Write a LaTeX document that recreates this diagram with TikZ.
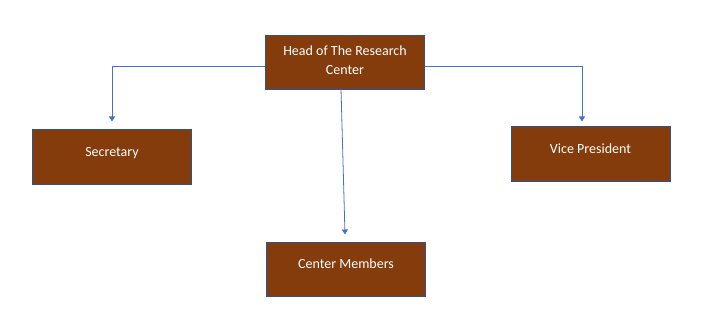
\documentclass[tikz,border=0pt]{standalone}
\usepackage{fontspec}
\setmainfont{Carlito}
\usetikzlibrary{arrows.meta,calc}
\definecolor{boxfill}{HTML}{843C0C}
\definecolor{boxline}{HTML}{2F528F}
\definecolor{conn}{HTML}{4472C4}
\begin{document}
\begin{tikzpicture}[x=1pt,y=-1pt,
  orgbox/.style={draw=boxline,line width=1pt,fill=boxfill,text=white,font=\fontsize{14}{19.5}\selectfont,
    minimum width=159pt,minimum height=54pt,align=center,inner sep=2pt,text depth=11pt},
  link/.style={draw=conn,line width=0.8pt,-{Triangle[width=6pt,length=5pt]}}]
\useasboundingbox (0,0) rectangle (715,318);
\node[orgbox,text depth=6pt] (head) at (345,63) {Head of The Research\\Center};
\node[orgbox] (sec) at (112,157) {Secretary};
\node[orgbox] (vp) at (590.5,154) {Vice President};
\node[orgbox] (cm) at (346,269) {Center Members};
\draw[link] ($(head.west)+(0,3)$) -| ($(sec.north)+(0,-8)$);
\draw[link] ($(head.east)+(0,3)$) -| ($(vp.north)+(-8.5,-5)$);
\draw[link] ($(head.south)+(-4,-2)$) -- ($(cm.north)+(-1,-7)$);
\end{tikzpicture}
\end{document}
